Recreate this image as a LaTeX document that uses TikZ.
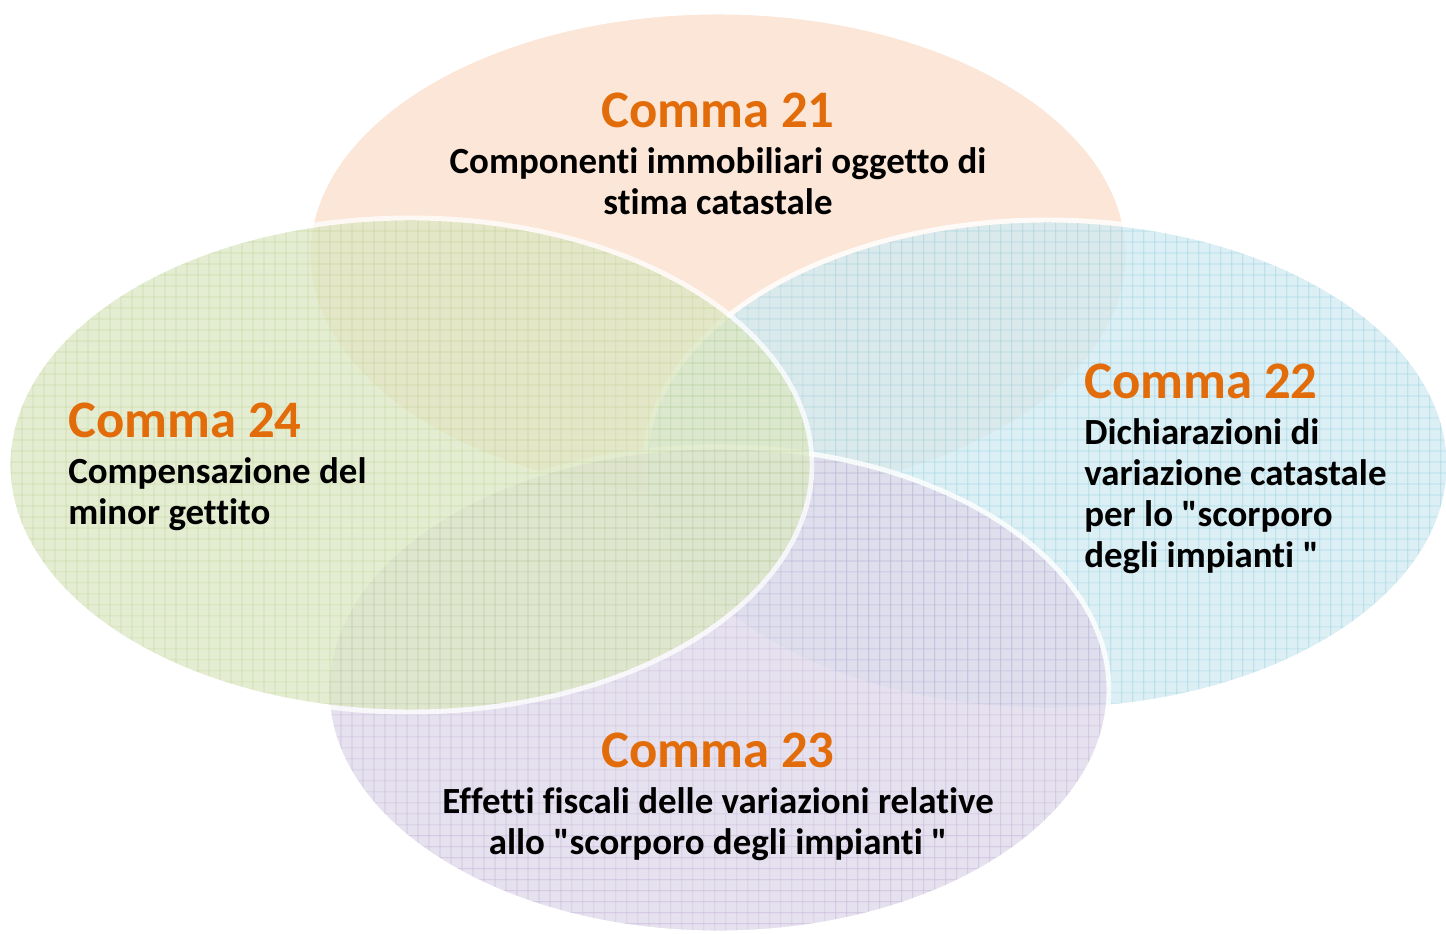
\documentclass[tikz,border=0pt]{standalone}
\usepackage{fontspec}
\setmainfont{Carlito}[Ligatures={TeXOff,CommonOff}]
\usepackage{tikz}
\usetikzlibrary{positioning}

\definecolor{commaorange}{HTML}{E36C0A}
\definecolor{peachfill}{HTML}{FBE2D0}
\definecolor{bluefill}{HTML}{D2EBF2}
\definecolor{bluegrid}{HTML}{9ED2E0}
\definecolor{greenfill}{HTML}{DCE8C3}
\definecolor{greengrid}{HTML}{BBD190}
\definecolor{purplefill}{HTML}{E0DAEB}
\definecolor{purplegrid}{HTML}{C0B2D5}

\tikzset{
  rim/.style={draw=white, line width=2.8pt},
  gridline/.style={line width=0.4pt},
  comma/.style={font=\fontsize{30}{36}\selectfont\bfseries, text=commaorange, inner sep=0pt},
  note/.style={font=\fontsize{21}{23.3}\selectfont\bfseries, inner sep=0pt},
}

\begin{document}
\begin{tikzpicture}[x=0.02cm, y=-0.02cm]

    \clip (0,0) rectangle (1446,933);
    \fill[white] (0,0) rectangle (1446,933);



    \begin{scope}[transparency group, opacity=0.85]

      \fill[peachfill] (718,255) ellipse [x radius=410, y radius=243];

      \draw[rim] (718,255) ellipse [x radius=410, y radius=243];

    \end{scope}



    \begin{scope}[transparency group, opacity=0.8]

      \fill[bluefill] (1047,465) ellipse [x radius=402, y radius=245];

      \begin{scope}
        \clip (1047,465) ellipse [x radius=402, y radius=245];
        \draw[gridline, bluegrid, step=0.22cm] (640,215) grid (1460,715);
      \end{scope}

      \draw[rim] (1047,465) ellipse [x radius=402, y radius=245];

    \end{scope}



    \begin{scope}[transparency group, opacity=0.8]

      \fill[purplefill] (718,690) ellipse [x radius=391, y radius=243];

      \begin{scope}
        \clip (718,690) ellipse [x radius=391, y radius=243];
        \draw[gridline, purplegrid, step=0.22cm] (320,440) grid (1115,940);
      \end{scope}

      \draw[rim] (718,690) ellipse [x radius=391, y radius=243];

    \end{scope}



    \begin{scope}[transparency group, opacity=0.75]

      \fill[greenfill] (410,465) ellipse [x radius=402, y radius=247];

      \begin{scope}
        \clip (410,465) ellipse [x radius=402, y radius=247];
        \draw[gridline, greengrid, step=0.22cm] (0,210) grid (820,720);
      \end{scope}

      \draw[rim] (410,465) ellipse [x radius=402, y radius=247];

    \end{scope}



    \node[comma, anchor=base] (c21) at (718,127) {Comma 21};
    \node[note, align=center, below=11pt of c21] (t21)
      {Componenti immobiliari oggetto di\\stima catastale};

    \node[comma, anchor=base west] (c22) at (1084,398) {Comma 22};
    \node[note, align=left, below=11pt of c22.south west, anchor=north west] (t22)
      {Dichiarazioni di\\variazione catastale\\per lo "scorporo\\degli impianti "};

    \node[comma, anchor=base] (c23) at (718,767) {Comma 23};
    \node[note, align=center, below=11pt of c23] (t23)
      {Effetti fiscali delle variazioni relative\\allo "scorporo degli impianti "};

    \node[comma, anchor=base west] (c24) at (68,437) {Comma 24};
    \node[note, align=left, below=11pt of c24.south west, anchor=north west] (t24)
      {Compensazione del\\minor gettito};

  \end{tikzpicture}
\end{document}
